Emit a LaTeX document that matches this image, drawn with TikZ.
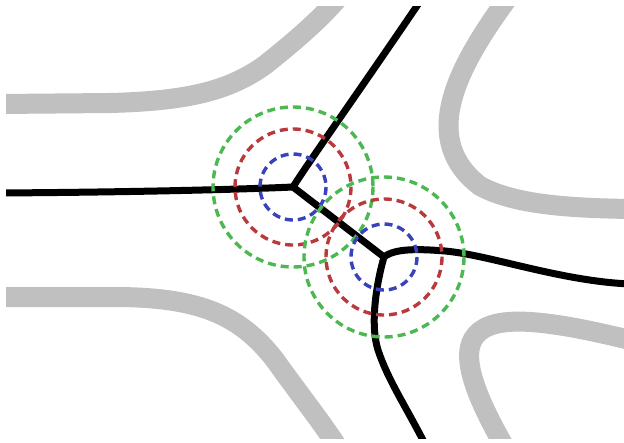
\documentclass[tikz,border=0pt]{standalone}
\begin{document}
\begin{tikzpicture}[x=1pt,y=-1pt,
  valley/.style={line width=20pt,color=valleygray},
  ridge/.style={line width=7pt,color=black},
  ring/.style={line width=3.4pt,dash pattern=on 8pt off 5pt},
  ]
\definecolor{valleygray}{RGB}{192,192,192}
\definecolor{ringgreen}{RGB}{76,184,82}
\definecolor{ringred}{RGB}{184,58,60}
\definecolor{ringblue}{RGB}{56,66,186}
\useasboundingbox (0,0) rectangle (624,442);
\fill[white] (0,0) rectangle (624,442);
\begin{scope}
\clip (6,6) rectangle (624,438);
% grey valleys
\draw[valley] (0,104) -- (110,103) .. controls (190,101) and (230,90) .. (265,65) .. controls (290,45) and (318,22) .. (340,-4);
\draw[valley] (508,-2) .. controls (455,70) and (420,140) .. (480,186) .. controls (515,205) and (570,208) .. (630,209);
\draw[valley] (0,297) -- (120,297) .. controls (200,298) and (240,315) .. (275,360) .. controls (300,395) and (320,420) .. (337,446);
\draw[valley] (504,446) .. controls (478,400) and (458,355) .. (476,335) .. controls (493,315) and (540,318) .. (630,340);
% ridge lines
\coordinate (j1) at (293,187);
\coordinate (j2) at (384,257);
\coordinate (eL) at (0,193);
\coordinate (eT) at (421,0);
\coordinate (eR) at (630,284);
\coordinate (eB) at (425,444);
\draw[ridge,line join=round] (eL) .. controls (150,192) and (250,189) .. (j1);
\draw[ridge,line join=round] (j1) .. controls (310,160) and (360,90) .. (eT);
\draw[ridge] (j1) -- (j2);
\draw[ridge] (j2) .. controls (395,248) and (420,249) .. (445,251) .. controls (490,255) and (560,281) .. (eR);
\draw[ridge] (j2) .. controls (376,285) and (370,325) .. (378,350) .. controls (388,380) and (405,405) .. (eB);
\end{scope}
% rings
\draw[ring,ringgreen] (j1) circle[radius=80];
\draw[ring,ringred] (j1) circle[radius=58];
\draw[ring,ringblue] (j1) circle[radius=33];
\draw[ring,ringgreen] (j2) circle[radius=80];
\draw[ring,ringred] (j2) circle[radius=58];
\draw[ring,ringblue] (j2) circle[radius=33];
\end{tikzpicture}
\end{document}
